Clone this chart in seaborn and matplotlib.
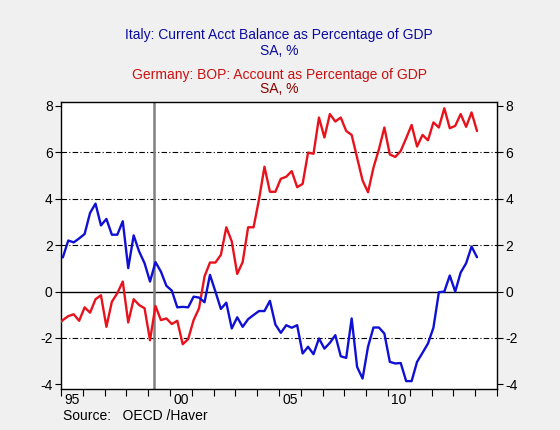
import matplotlib
matplotlib.use("Agg")
import matplotlib.pyplot as plt
import numpy as np
import pandas as pd
import seaborn as sns

# ---------------- data (quarterly, % of GDP) ----------------
italy_start = "1995Q1"
italy = [1.47, 2.20, 2.12, 2.29, 2.48, 3.39, 3.79, 2.85, 3.13, 2.45,
         2.45, 3.03, 1.01, 2.42, 1.73, 1.22, 0.43, 1.27, 0.86, 0.25,
         0.04, -0.68, -0.66, -0.68, -0.22, -0.26, -0.46, 0.72, 0.00, -0.75,
         -0.48, -1.59, -1.11, -1.52, -1.19, -1.01, -0.84, -0.84, -0.40, -1.42,
         -1.78, -1.45, -1.56, -1.45, -2.67, -2.38, -2.70, -2.02, -2.46, -2.21,
         -1.88, -2.79, -2.86, -1.16, -3.25, -3.75, -2.38, -1.55, -1.55, -1.81,
         -3.03, -3.10, -3.08, -3.86, -3.86, -3.03, -2.64, -2.24, -1.56, -0.03,
         0.00, 0.69, 0.00, 0.82, 1.22, 1.94, 1.48]

germany_start = "1994Q4"
germany = [-1.45, -1.23, -1.06, -0.98, -1.26, -0.68, -0.91, -0.33, -0.16, -1.52,
           -0.44, -0.07, 0.43, -1.33, -0.33, -0.58, -0.72, -2.10, -0.62, -1.23,
           -1.16, -1.40, -1.26, -2.27, -2.05, -1.23, -0.72, 0.65, 1.25, 1.25,
           1.58, 2.77, 2.16, 0.76, 1.27, 2.77, 2.77, 3.97, 5.38, 4.30,
           4.30, 4.86, 4.95, 5.19, 4.50, 4.64, 5.99, 5.94, 7.50, 6.64,
           7.65, 7.33, 7.50, 6.92, 6.75, 5.77, 4.79, 4.28, 5.34, 6.13,
           7.07, 5.91, 5.80, 6.06, 6.61, 7.18, 6.25, 6.75, 6.52, 7.29,
           7.07, 7.90, 7.04, 7.14, 7.65, 7.10, 7.72, 6.92]

year_ticks = list(range(1995, 2016))
year_labels = ["95", "00", "05", "10"]
year_label_years = [1995, 2000, 2005, 2010]
y_ticks = [-4, -2, 0, 2, 4, 6, 8]
grid_levels = [-2, 2, 4, 6]
euro_marker = 1999.25

titles = ["Italy: Current Acct Balance as Percentage of GDP", "SA, %",
          "Germany: BOP: Account as Percentage of GDP", "SA, %"]
source = "Source:   OECD /Haver"


def quarter_positions(start, n):
    p = pd.period_range(start, periods=n, freq="Q")
    return np.asarray(p.year + (p.quarter - 1) / 4.0 + 1.0 / 12.0, dtype=float)


df = pd.concat([
    pd.DataFrame({"t": quarter_positions(italy_start, len(italy)),
                  "v": italy, "s": "Italy"}),
    pd.DataFrame({"t": quarter_positions(germany_start, len(germany)),
                  "v": germany, "s": "Germany"}),
], ignore_index=True)

# ---------------- style ----------------
sns.set_theme(style="white")
plt.rcParams["font.family"] = ["Liberation Sans", "DejaVu Sans"]

BG = "#F0F0F0"
fig = plt.figure(figsize=(5.6, 4.3), dpi=100, facecolor=BG)
ax = fig.add_axes([61 / 560, 1 - 389 / 430, 436 / 560, 287 / 430])
ax.set_facecolor("white")

sns.lineplot(data=df, x="t", y="v", hue="s",
             palette={"Italy": "#1010D4", "Germany": "#E8121C"},
             hue_order=["Germany", "Italy"],
             estimator=None, sort=True, legend=False, ax=ax,
             linewidth=1.7, zorder=3)

# gridlines
for g in grid_levels:
    ax.axhline(g, color="black", lw=0.8, ls=(0, (5, 2, 1, 2)), zorder=1)
ax.axhline(0, color="black", lw=1.0, zorder=1)
ax.axvline(euro_marker, color="#808080", lw=1.8, zorder=2)

ax.set_xlim(1995, 2015)
ax.set_ylim(-4.2, 8.17)
ax.set_xlabel("")
ax.set_ylabel("")

# y axis both sides
ax.set_yticks(y_ticks)
ax.set_yticklabels([str(v) for v in y_ticks])
ax.tick_params(axis="y", which="major", direction="out", length=4, width=0.8,
               color="black", left=True, right=True, labelleft=True,
               labelright=True, labelsize=10, labelcolor="black", pad=2)

# x axis: year ticks, labels centred on the year
ax.set_xticks(year_ticks)
ax.set_xticklabels([])
ax.set_xticks([y + 0.5 for y in year_label_years], minor=True)
ax.set_xticklabels(year_labels, minor=True)
ax.tick_params(axis="x", which="major", direction="out", length=5, width=0.8,
               color="black", bottom=True, top=False)
ax.tick_params(axis="x", which="minor", length=0, labelsize=10,
               labelcolor="black", pad=3)

for sp in ax.spines.values():
    sp.set_visible(True)
    sp.set_color("black")
    sp.set_linewidth(1.0)

# titles
cx = 279 / 560
fig.text(cx, 1 - 35.5 / 430, titles[0], ha="center", va="center",
         fontsize=10, color="#0A0AA0")
fig.text(cx, 1 - 50.7 / 430, titles[1], ha="center", va="center",
         fontsize=10, color="#0A0AA0")
fig.text(cx, 1 - 74.7 / 430, titles[2], ha="center", va="center",
         fontsize=10, color="#CC1010")
fig.text(cx, 1 - 89.0 / 430, titles[3], ha="center", va="center",
         fontsize=10, color="#8A0000")
fig.text(63 / 560, 1 - 416.5 / 430, source, ha="left", va="center",
         fontsize=10, color="black")

fig.savefig("out.png", dpi=100, facecolor=BG)
